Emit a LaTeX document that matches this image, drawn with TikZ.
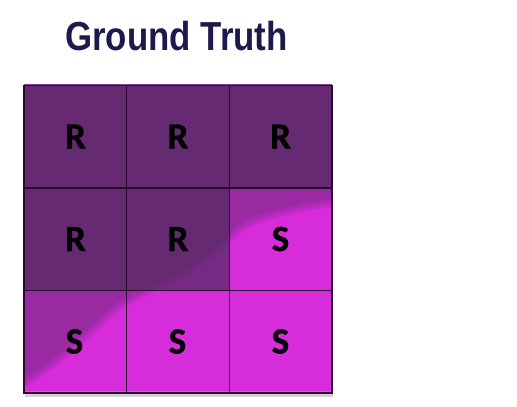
\documentclass[tikz,border=0pt]{standalone}
\usepackage{fontspec}
\newfontfamily\titlefont[FakeStretch=0.86]{Liberation Sans}
\newfontfamily\cellfont[FakeBold=0.8]{Carlito}
\definecolor{dp}{RGB}{101,42,114}
\definecolor{mg}{RGB}{214,44,218}
\definecolor{gl}{RGB}{40,12,48}
\definecolor{tt}{RGB}{28,26,76}
\definecolor{topedge}{RGB}{135,70,150}
\definecolor{botedge}{RGB}{228,80,230}
\tikzset{
  cellbox/.style={draw=gl, line width=1.1pt, minimum width=102.67pt, minimum height=102.5pt, inner sep=0pt},
  celltext/.style={font=\cellfont\bfseries\fontsize{37}{40}\selectfont, text=black, anchor=base, inner sep=0pt},
  titletext/.style={font=\titlefont\bfseries\fontsize{40.5}{44}\selectfont, text=tt, anchor=base, inner sep=0pt}
}
\def\bcurve{(24,383) (53,363) (87,334) (120,305) (160,284) (200,262) (228,238) (250,222) (290,210) (332,202)}
\begin{document}
\begin{tikzpicture}[x=1pt,y=-1pt]
\useasboundingbox (0,0) rectangle (517,407);
% title
\node[titletext] (title) at (176.5,50.7) {Ground Truth};
% shadow and edges
\fill[gray!35] (25,392) rectangle (333,396.5);
% base fills
\fill[dp] (24,85.5) rectangle (332,393);
\fill[mg] (229.33,188) rectangle (332,290.5);
\fill[mg] (24,290.5) rectangle (332,393);
% diagonal overlays
\begin{scope}
  \clip (24,85.5) rectangle (332,393);
  \foreach \k in {-4,...,4}{
    \fill[dp, fill opacity=0.075, shift={(\k*0.55*1.3,\k*0.83*1.3)}]
      plot[smooth] coordinates {\bcurve} -- (400,202) -- (400,0) -- (0,0) -- (0,383) -- cycle;
    \fill[mg, fill opacity=0.025, shift={(\k*0.55*1.3,\k*0.83*1.3)}]
      plot[smooth] coordinates {\bcurve} -- (400,202) -- (400,450) -- (0,450) -- (0,383) -- cycle;
  }
\end{scope}
\draw[topedge, line width=1.2pt] (24,84.6) -- (332,84.6);
\draw[botedge, line width=1.6pt] (24.6,391.6) -- (331.4,391.6);
% cells
\node[cellbox] (c11) at (75.33,136.75) {};
\node[cellbox] (c12) at (178,136.75) {};
\node[cellbox] (c13) at (280.67,136.75) {};
\node[cellbox] (c21) at (75.33,239.25) {};
\node[cellbox] (c22) at (178,239.25) {};
\node[cellbox] (c23) at (280.67,239.25) {};
\node[cellbox] (c31) at (75.33,341.75) {};
\node[cellbox] (c32) at (178,341.75) {};
\node[cellbox] (c33) at (280.67,341.75) {};
% letters
\node[celltext] (t11) at (75.5,148.5) {R};
\node[celltext] (t12) at (178,148.5) {R};
\node[celltext] (t13) at (280.5,148.5) {R};
\node[celltext] (t21) at (75.5,251) {R};
\node[celltext] (t22) at (178,251) {R};
\node[celltext] (t23) at (280.5,251) {S};
\node[celltext] (t31) at (74.5,353.5) {S};
\node[celltext] (t32) at (177.5,353.5) {S};
\node[celltext] (t33) at (280.5,353.5) {S};
\end{tikzpicture}
\end{document}
